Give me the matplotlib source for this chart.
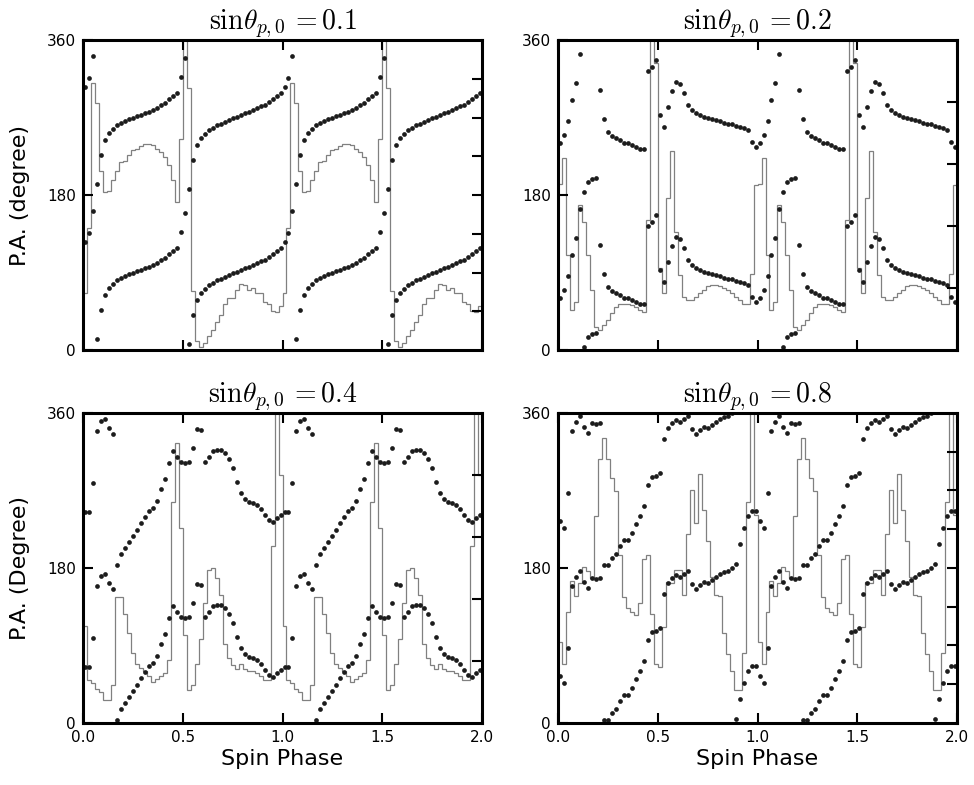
import matplotlib.pyplot as plt
import numpy as np

plt.rcParams['mathtext.fontset'] = 'cm'
plt.rcParams['font.family'] = 'DejaVu Sans'

# 50 phase bins (0.02 wide) per spin period; the pattern is shown for two periods
edges = np.linspace(0.0, 2.0, 101)
phase = edges[:-1] + 0.01

titles = [r'$\mathrm{sin}\theta_{p,0}\,{=}0.1$', r'$\mathrm{sin}\theta_{p,0}\,{=}0.2$',
          r'$\mathrm{sin}\theta_{p,0}\,{=}0.4$', r'$\mathrm{sin}\theta_{p,0}\,{=}0.8$']
ylabels = ['P.A. (degree)', None, 'P.A. (Degree)', None]

# position angle (0-180 branch) for one period
pa_01 = [125, 136, 162, 13, 46, 64, 72, 77, 81, 84, 86, 88, 90, 91.5, 93,
         95, 97, 99, 101, 104, 107, 111, 115, 119, 137, 159.5, 7, 41, 58, 66,
         71, 75, 78, 81, 83, 85, 87, 89, 91, 93, 95, 97, 99, 101, 103,
         105, 108, 111, 115, 119]
pa_02 = [60, 70, 86, 110, 130, 164, 4, 15, 19, 20, 122, 88, 73, 68, 66,
         63.5, 61, 60, 58, 56, 54, 53, 144, 149, 157, 93, 79, 102, 121, 131,
         129, 119, 105, 99, 95, 93, 91, 90, 88, 87, 86, 84, 83, 82, 80,
         79, 78, 75, 62, 56]
pa_04 = [64.6, 64.6, 98.3, 159, 171, 173, 162, 156, 3.5, 16, 23.6, 30.6, 37.2, 44, 52,
         59.6, 66, 69.3, 78, 91.4, 103, 121.5, 136, 129, 123.5, 121.6, 122.7, 139, 161.4, 160.3,
         122.7, 129.3, 136.3, 137, 137, 133, 126.6, 115.7, 99.5, 86.7, 79.7, 76.3, 75, 73.2, 68.5,
         61.5, 55.8, 53.8, 57.7, 61.5]
pa_08 = [55, 47, 87, 159, 170, 176, 164, 157, 168, 167, 168, 3.5, 3.5, 12, 16,
         25.5, 32, 33, 41, 51, 60, 72, 96, 106, 107, 110, 150, 162, 168, 172,
         170, 173, 177, 161, 156, 160, 164, 163, 166, 169, 173, 175, 177, 179.6, 5,
         27.5, 46, 60, 66, 66]

# histogram (on the P.A. scale) for one period
hist_01 = [66, 142, 310, 287, 208, 183, 185, 197, 208, 218, 219, 226, 232, 234, 237,
           239, 239, 238, 234, 230, 224, 215, 197, 172, 245, 400, 304, 68, 10, 4,
           8, 16, 23, 32, 41, 54, 60, 60, 70, 77, 76, 70, 72, 66, 66,
           56, 54, 45, 44, 51]
hist_02 = [193, 223, 110, 46, 56, 168, 149, 110, 70, 27, 23, 29, 35, 43, 50,
           54, 54, 54, 52, 50, 47, 44, 151, 400, 333, 95, 66, 176, 231, 137,
           87, 62, 58, 58, 62, 66, 70, 74, 76, 76, 74, 72, 70, 66, 62,
           58, 54, 54, 88, 192]
hist_04 = [113, 50, 46, 40, 36, 27, 27, 44, 146, 146, 127, 104, 81, 69, 64,
           60, 54, 48, 51, 54, 58, 73, 257, 325, 226, 102, 38, 44, 69, 98,
           139, 178, 180, 168, 149, 92, 75, 67, 63, 69, 63, 60, 60, 58, 54,
           50, 50, 205, 400, 288]
hist_08 = [94, 69, 129, 165, 148, 162, 181, 176, 168, 240, 307, 331, 307, 284, 269,
           195, 146, 134, 129, 125, 139, 190, 195, 126, 69, 65, 111, 164, 162, 178,
           178, 149, 220, 271, 232, 289, 247, 211, 169, 149, 147, 105, 80, 60, 38,
           38, 81, 257, 400, 241]

pa_sets = [pa_01, pa_02, pa_04, pa_08]
hist_sets = [hist_01, hist_02, hist_04, hist_08]
right_max = [0.8, 0.5, 0.5, 0.8]

boxes = [[0.0852, 0.5541, 0.4097, 0.3949],
         [0.5729, 0.5541, 0.4097, 0.3949],
         [0.0852, 0.0790, 0.4097, 0.3949],
         [0.5729, 0.0790, 0.4097, 0.3949]]

fig = plt.figure(figsize=(9.74, 7.85), dpi=100)

for i in range(4):
    ax = fig.add_axes(boxes[i])
    pa = np.array(pa_sets[i] * 2, dtype=float)
    hist = np.array(hist_sets[i] * 2, dtype=float)

    ax.stairs(hist, edges, baseline=None, color='#808080', lw=0.9)
    ax.plot(phase, pa, 'o', ms=3.4, color='#1c1c1c', mew=0)
    ax.plot(phase, pa + 180, 'o', ms=3.4, color='#1c1c1c', mew=0)

    ax.set_xlim(0, 2)
    ax.set_ylim(0, 360)
    ax.set_xticks([0, 0.5, 1.0, 1.5, 2.0])
    ax.set_yticks([0, 180, 360])
    ax.tick_params(direction='in', top=True, right=False, length=7, width=1.5,
                   labelsize=11, pad=5)
    if i < 2:
        ax.tick_params(labelbottom=False)
    else:
        ax.set_xlabel('Spin Phase', fontsize=16, labelpad=3)
    if ylabels[i]:
        ax.set_ylabel(ylabels[i], fontsize=16, labelpad=12)
    for sp in ax.spines.values():
        sp.set_linewidth(2.2)
    ax.set_title(titles[i], fontsize=20, pad=4)

    tw = ax.twinx()
    tw.set_ylim(0, right_max[i])
    tw.set_yticks(np.arange(1, int(round(right_max[i] * 10))) / 10)
    tw.tick_params(direction='in', length=7, width=1.5, labelright=False)
    for sp in tw.spines.values():
        sp.set_visible(False)

fig.savefig('out.png', dpi=100)
